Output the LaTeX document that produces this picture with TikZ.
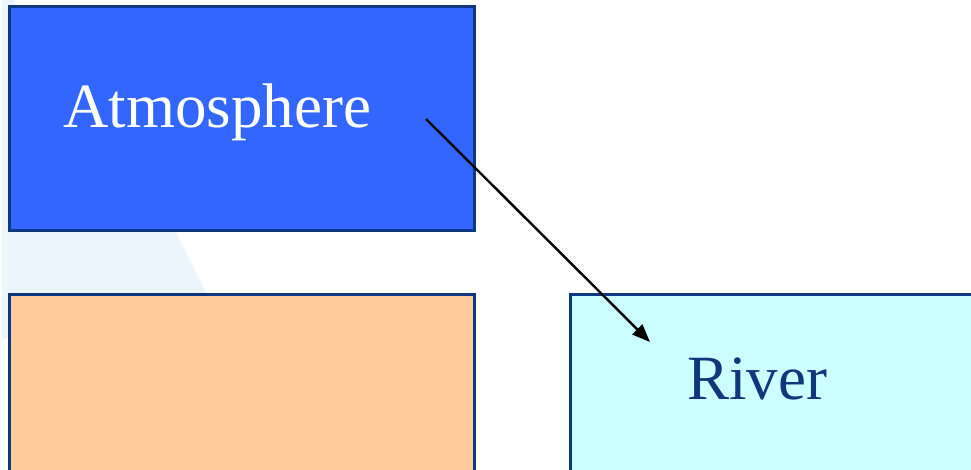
\documentclass[tikz,border=0pt]{standalone}
\usepackage{fontspec}
\setmainfont{Liberation Serif}
\usetikzlibrary{arrows.meta}
\definecolor{boxblue}{RGB}{51,102,255}
\definecolor{boxorange}{RGB}{255,204,153}
\definecolor{boxcyan}{RGB}{204,255,255}
\definecolor{navy}{RGB}{14,56,130}
\definecolor{rivertext}{RGB}{15,55,125}
\definecolor{faint}{RGB}{236,244,252}
\tikzset{
  panel/.style={draw=navy, line width=3pt, rectangle, inner sep=0pt},
  label/.style={font=\fontsize{63}{70}\selectfont, inner sep=0pt, anchor=base west},
  flow/.style={line width=2.4pt, -{Triangle[length=18pt,width=14pt]}}
}
\begin{document}
\begin{tikzpicture}[x=1pt,y=-1pt]
\useasboundingbox (0,0) rectangle (971,469);
\fill[white] (0,0) rectangle (971,469);
\begin{scope}
\clip (0,0) rectangle (971,469);
% faint watermark swoosh
\fill[faint] (2,0) -- (14,0) .. controls (60,90) and (150,180) .. (175,230)
  -- (210,300) .. controls (120,315) and (40,325) .. (2,340) -- cycle;
\node[panel, fill=boxblue, minimum width=465pt, minimum height=224pt] (atm) at (241.5,118) {};
\node[panel, fill=boxorange, minimum width=465pt, minimum height=190pt] (soil) at (241.5,389) {};
\node[panel, fill=boxcyan, minimum width=410pt, minimum height=190pt] (river) at (775,389) {};
\end{scope}
\node[label, text=white] (atmt) at (63,127) {Atmosphere};
\node[label, text=rivertext] (rivt) at (687,399) {River};
\coordinate (a1) at (426,119);
\coordinate (a2) at (650,342);
\draw[flow] (a1) -- (a2);
\end{tikzpicture}
\end{document}
